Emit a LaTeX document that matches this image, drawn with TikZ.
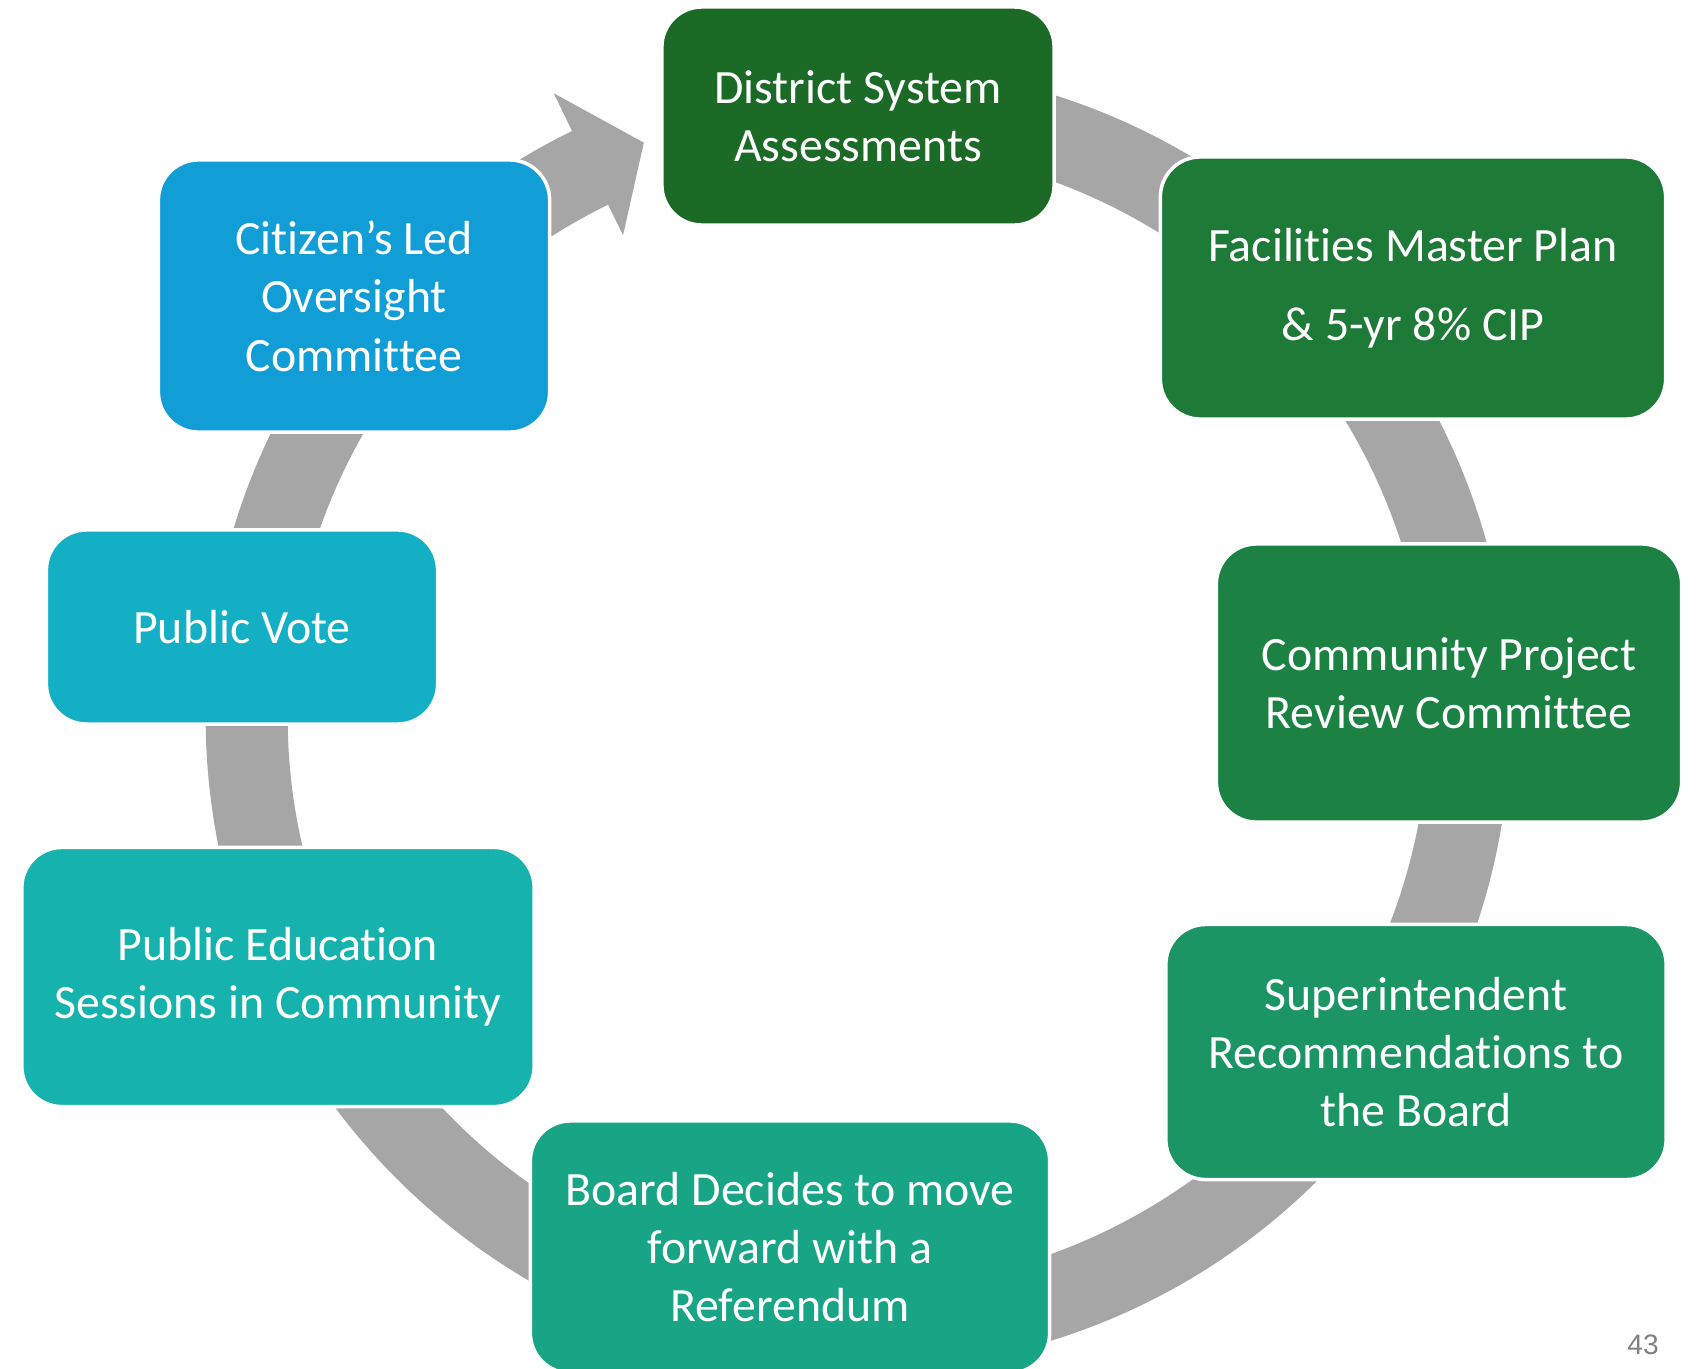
\documentclass[tikz,border=0pt]{standalone}
\usepackage{fontspec}
\setmainfont[Ligatures=NoCommon]{Carlito}
\newfontfamily\pagefont{Liberation Sans}
\usepackage{xcolor}

\definecolor{ringgray}{HTML}{A6A6A6}
\definecolor{assessgreen}{HTML}{1B6B27}
\definecolor{plangreen}{HTML}{1D7A37}
\definecolor{reviewgreen}{HTML}{1B8244}
\definecolor{supgreen}{HTML}{1A9563}
\definecolor{boardgreen}{HTML}{18A585}
\definecolor{eduteal}{HTML}{16B3AE}
\definecolor{voteteal}{HTML}{13B0C5}
\definecolor{citizenblue}{HTML}{119DD6}

\begin{document}
\begin{tikzpicture}[
          x=0.01cm, y=0.01cm,
          box/.style={draw=white, line width=1pt, rounded corners=0.4cm, align=center, text=white, inner sep=0pt, font=\fontsize{13.6}{16.6}\selectfont},
          cycle/.style={fill=ringgray, draw=none}
        ]
          \useasboundingbox (0,0) rectangle (1696,-1369);

          % Cycle ring with arrow head
          \coordinate (ctr) at (858,-717);
          \fill[cycle] ([shift={(95:652)}]ctr) arc[start angle=95, end angle=-244, radius=6.52cm]
            -- ([shift={(-244:694)}]ctr) -- ([shift={(-249.55:613)}]ctr)
            -- ([shift={(-244:536)}]ctr) -- ([shift={(-244:570)}]ctr)
            arc[start angle=-244, end angle=95, radius=5.70cm] -- cycle;

          % Steps
          \node[box, fill=assessgreen, minimum width=3.92cm, minimum height=2.18cm] (assess) at (858,-116) {District System\\Assessments};
          \node[box, fill=plangreen, minimum width=5.05cm, minimum height=2.62cm] (plan) at (1413,-288) {Facilities Master Plan\\[6pt]\& 5-yr 8\% CIP};
          \node[box, fill=reviewgreen, minimum width=4.65cm, minimum height=2.78cm] (review) at (1449,-683) {Community Project\\Review Committee};
          \node[box, fill=supgreen, minimum width=5.00cm, minimum height=2.55cm] (super) at (1416,-1052) {Superintendent\\Recommendations to\\the Board};
          \node[box, fill=boardgreen, minimum width=5.19cm, minimum height=2.52cm] (board) at (790,-1247) {Board Decides to move\\forward with a\\Referendum};
          \node[box, fill=eduteal, minimum width=5.12cm, minimum height=2.59cm] (educate) at (278,-977) {Public Education\\Sessions in Community};
          \node[box, fill=voteteal, minimum width=3.91cm, minimum height=1.94cm] (vote) at (242,-627) {Public Vote};
          \node[box, fill=citizenblue, minimum width=3.91cm, minimum height=2.72cm] (oversight) at (354,-296) {Citizen’s Led\\Oversight\\Committee};

          % Page number
          \node[text=black!50, font=\pagefont\fontsize{8}{9}\selectfont] (pagenum) at (1643,-1345) {43};
        \end{tikzpicture}
\end{document}
